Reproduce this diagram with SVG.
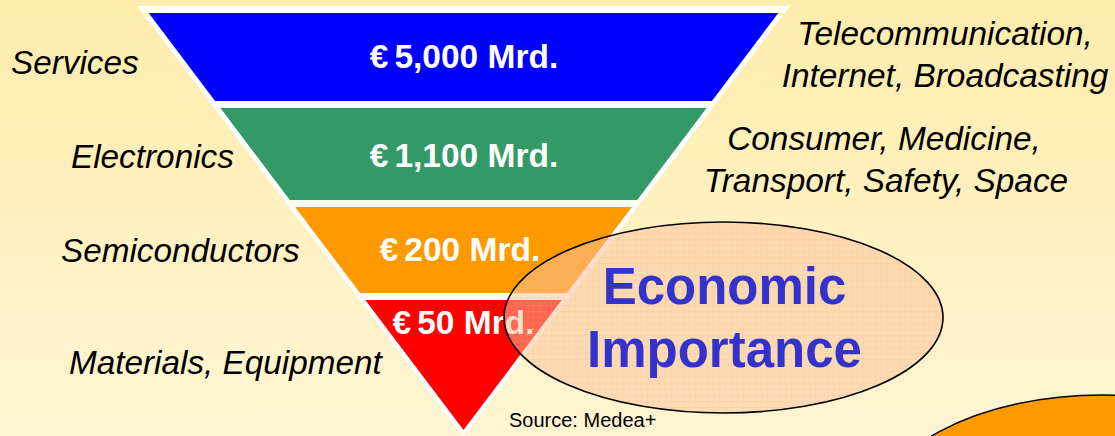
<svg xmlns="http://www.w3.org/2000/svg" width="1115" height="436" viewBox="0 0 1115 436">
  <defs>
    <linearGradient id="bg" x1="0" y1="0" x2="0" y2="1">
      <stop offset="0" stop-color="#FEECAC"/>
      <stop offset="1" stop-color="#FFF5D3"/>
    </linearGradient>
    <pattern id="grid" width="6" height="6" patternUnits="userSpaceOnUse">
      <path d="M6 0V6M0 6H6" fill="none" stroke="#F2A878" stroke-width="0.6" stroke-opacity="0.45"/>
    </pattern>
    <style>
      .val { font-family: "Liberation Sans", Arial, sans-serif; font-weight: bold; font-size: 33.5px; fill: #FFFFFF; text-anchor: middle; }
      .lbl { font-family: "Liberation Sans", Arial, sans-serif; font-style: italic; font-size: 33.3px; fill: #000000; }
      .rlbl { font-family: "Liberation Sans", Arial, sans-serif; font-style: italic; font-size: 33.4px; fill: #000000; text-anchor: middle; }
      .big { font-family: "Liberation Sans", Arial, sans-serif; font-weight: bold; font-size: 51px; fill: #3333CC; text-anchor: middle; }
      .src { font-family: "Liberation Sans", Arial, sans-serif; font-size: 20px; fill: #000000; }
    </style>
  </defs>

  <rect x="0" y="0" width="1115" height="436" fill="url(#bg)"/>

  <g id="pyramid">
    <polygon points="137,6 790,6 463.5,437" fill="#FFFFFF"/>
    <g id="band-services">
      <polygon points="148.7,13 778.3,13 711.9,101 215.1,101" fill="#0000FF"/>
      <text class="val" x="464" y="68">€<tspan dx="6">5,000 Mrd.</tspan></text>
    </g>
    <g id="band-electronics">
      <polygon points="220.4,108 706.6,108 637.2,200 289.8,200" fill="#339966"/>
      <text class="val" x="464" y="167">€<tspan dx="6">1,100 Mrd.</tspan></text>
    </g>
    <g id="band-semiconductors">
      <polygon points="295.1,207 631.9,207 566.9,293 360.1,293" fill="#FF9900"/>
      <text class="val" x="460" y="261">€<tspan dx="6">200 Mrd.</tspan></text>
    </g>
    <g id="band-materials">
      <polygon points="365.3,300 561.7,300 463.5,430" fill="#FF0000"/>
      <text class="val" x="463.5" y="334">€<tspan dx="6">50 Mrd.</tspan></text>
    </g>
  </g>

  <g id="left-labels">
    <text class="lbl" x="11" y="74">Services</text>
    <text class="lbl" x="71" y="168">Electronics</text>
    <text class="lbl" x="61" y="262">Semiconductors</text>
    <text class="lbl" x="69" y="374">Materials, Equipment</text>
  </g>

  <g id="right-labels">
    <text class="rlbl" x="945" y="45">Telecommunication,</text>
    <text class="rlbl" x="945" y="87">Internet, Broadcasting</text>
    <text class="rlbl" x="884" y="150">Consumer, Medicine,</text>
    <text class="rlbl" x="886" y="192">Transport, Safety, Space</text>
  </g>

  <g id="economic-importance">
    <ellipse cx="723.5" cy="317.5" rx="219.5" ry="95.5" fill="#FAC49D" fill-opacity="0.52"/>
    <ellipse cx="723.5" cy="317.5" rx="219.5" ry="95.5" fill="url(#grid)" stroke="#000000" stroke-width="1.6"/>
    <text class="big" x="724.5" y="304">Economic</text>
    <text class="big" x="724.5" y="367">Importance</text>
  </g>

  <g id="source">
    <text class="src" x="509" y="427">Source: Medea+</text>
  </g>

  <g id="corner-shape">
    <ellipse cx="1102" cy="520" rx="230" ry="125" fill="#FF9900" stroke="#000000" stroke-width="1.6"/>
  </g>
</svg>
